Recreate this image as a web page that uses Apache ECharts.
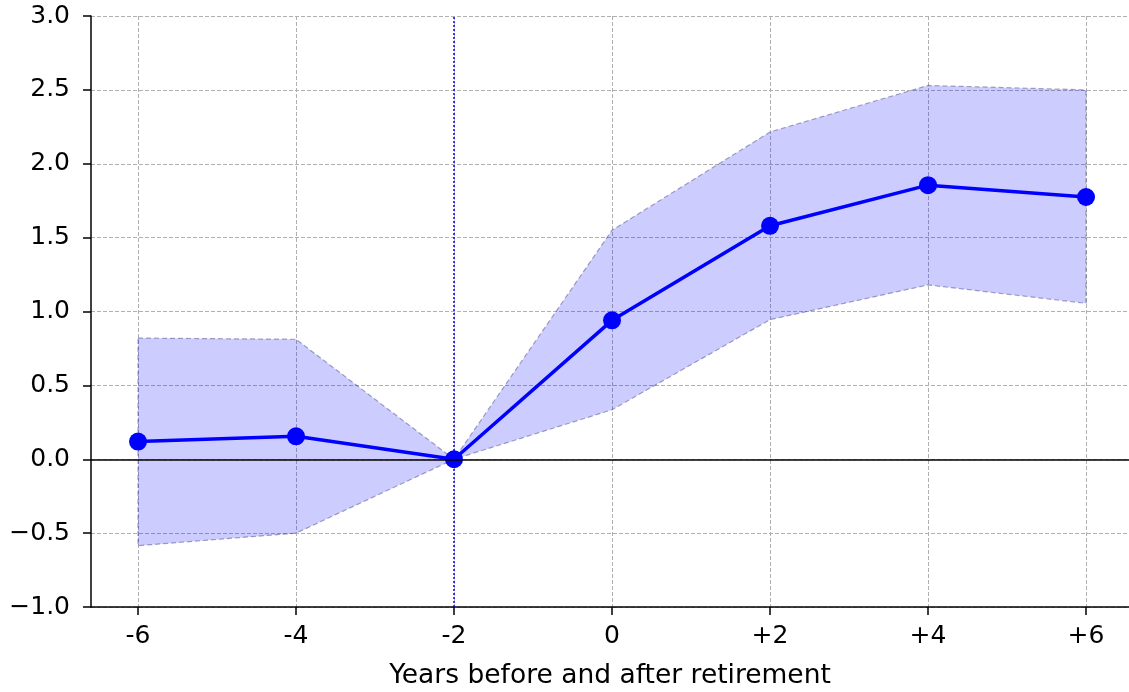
<!DOCTYPE html>
<html>
<head>
<meta charset="utf-8">
<script src="https://cdn.jsdelivr.net/npm/echarts@6/dist/echarts.min.js"></script>
<style>
  html, body { margin: 0; padding: 0; background: #fff; }
  #chart { width: 1129px; height: 692px; }
</style>
</head>
<body>
<div id="chart"></div>
<script>
// years relative to retirement
const years = [-6, -4, -2, 0, 2, 4, 6];
const estimate = [0.12, 0.155, 0.0, 0.94, 1.58, 1.855, 1.775];
const upperCI = [0.82, 0.812, 0.0, 1.55, 2.215, 2.53, 2.50];
const lowerCI = [-0.585, -0.50, 0.0, 0.335, 0.945, 1.18, 1.055];

const font = "DejaVu Sans";
const chart = echarts.init(document.getElementById("chart"));

// x label: -6, 0, +2 ...
function xLabel(v) {
  if (v > 0) return "+" + v;
  return String(v);
}

chart.setOption({
  animation: false,
  grid: { left: 91, right: 0, top: 16, bottom: 85, outerBoundsMode: "none" },
  xAxis: {
    type: "value",
    min: -6.595,
    max: 6.544,
    name: "Years before and after retirement",
    nameLocation: "middle",
    nameGap: 56,
    nameTextStyle: { fontFamily: font, fontSize: 26.5, color: "#000" },
    axisLine: { onZero: false, lineStyle: { color: "#000", width: 1.5 } },
    axisTick: { customValues: years, length: 8, lineStyle: { color: "#000", width: 1.5 } },
    axisLabel: {
      customValues: years, formatter: xLabel, margin: 17,
      fontFamily: font, fontSize: 25, color: "#000"
    },
    splitLine: { show: true, customValues: years, lineStyle: { color: "#b0b0b0", type: "dashed", width: 1 } }
  },
  yAxis: {
    type: "value",
    min: -1,
    max: 3,
    interval: 0.5,
    axisLine: { show: true, onZero: false, lineStyle: { color: "#000", width: 1.5 } },
    axisTick: { show: true, length: 8, lineStyle: { color: "#000", width: 1.5 } },
    axisLabel: {
      formatter: v => v.toFixed(1).replace("-", "\u2212"),
      margin: 21, fontFamily: font, fontSize: 25, color: "#000"
    },
    splitLine: { show: true, lineStyle: { color: "#b0b0b0", type: "dashed", width: 1 } }
  },
  series: [
    {
      // confidence band
      type: "custom",
      data: years.map((x, i) => [x, lowerCI[i], upperCI[i]]),
      encode: { x: 0, y: [1, 2] },
      silent: true,
      z: 1,
      renderItem: function (params, api) {
        if (params.dataIndex !== 0) return;
        const pts = [];
        years.forEach((x, i) => pts.push(api.coord([x, upperCI[i]])));
        for (let i = years.length - 1; i >= 0; i--) pts.push(api.coord([years[i], lowerCI[i]]));
        return {
          type: "polygon",
          shape: { points: pts },
          style: {
            fill: "rgba(0,0,255,0.2)",
            stroke: "rgba(60,60,120,0.45)",
            lineWidth: 1.2,
            lineDash: [5, 3]
          }
        };
      }
    },
    {
      // reference lines
      type: "line",
      data: [],
      z: 2,
      markLine: {
        silent: true,
        symbol: "none",
        label: { show: false },
        data: [
          { yAxis: 0, lineStyle: { color: "#000", width: 1.5, type: "solid" } },
          { xAxis: -2, lineStyle: { color: "#0000ff", width: 1.5, type: [2, 2] } }
        ]
      }
    },
    {
      type: "line",
      data: years.map((x, i) => [x, estimate[i]]),
      z: 3,
      symbol: "circle",
      symbolSize: 18,
      showAllSymbol: true,
      lineStyle: { color: "#0000ff", width: 3.5 },
      itemStyle: { color: "#0000ff" }
    }
  ]
});
</script>
</body>
</html>
